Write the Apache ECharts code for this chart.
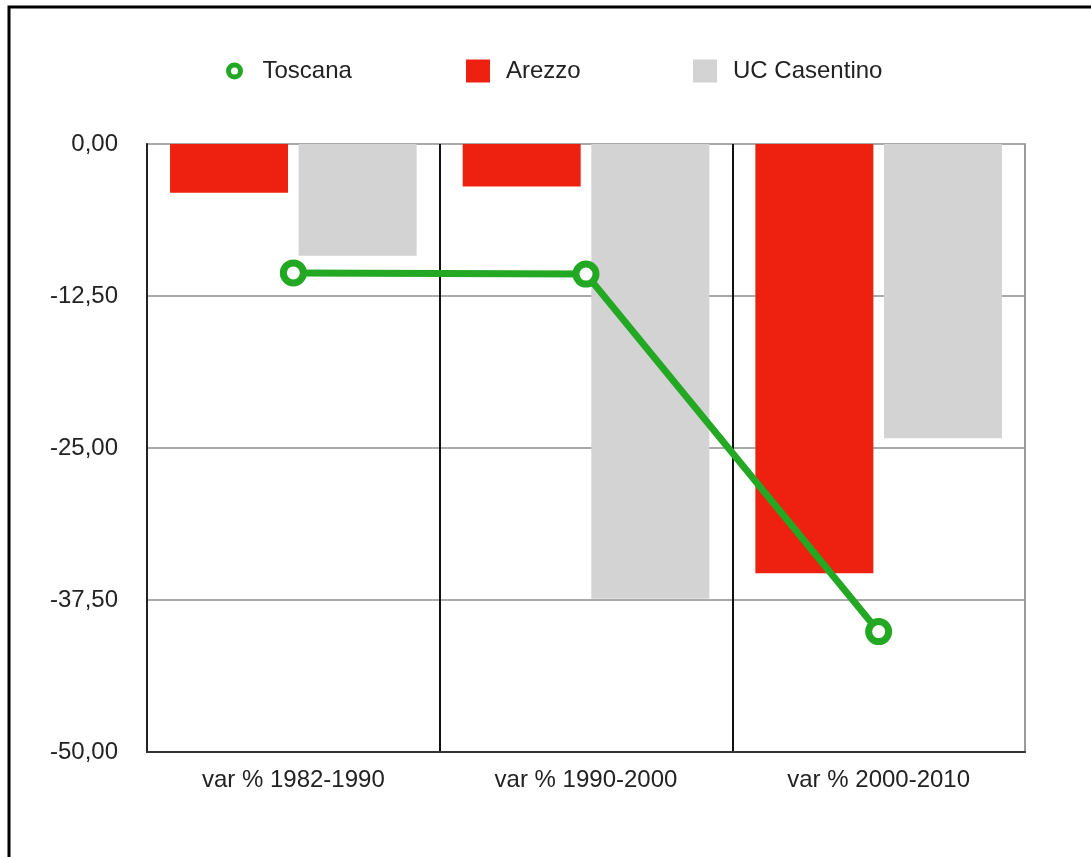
<!DOCTYPE html>
<html>
<head>
<meta charset="utf-8">
<script src="https://cdn.jsdelivr.net/npm/echarts@6/dist/echarts.min.js"></script>
<style>
html,body{margin:0;padding:0;background:#fff;}
#chart{width:1091px;height:857px;}
</style>
</head>
<body>
<div id="chart"></div>
<script>
const categories = ['var % 1982-1990', 'var % 1990-2000', 'var % 2000-2010'];
const toscana = [-10.6, -10.7, -40.1];
const arezzo = [-4.0, -3.5, -35.3];
const casentino = [-9.2, -37.4, -24.2];
const yTicks = { min: -50, max: 0, interval: 12.5 };

const chart = echarts.init(document.getElementById('chart'), null, { renderer: 'canvas' });
const FONT = 'Liberation Sans, Arial, Helvetica, sans-serif';
const GREEN = '#22a822';
const RED = '#ee2010';
const GREY = '#d3d3d3';

const legendText = { fontFamily: FONT, fontSize: 24, color: '#222' };

chart.setOption({
  animation: false,
  backgroundColor: '#fff',
  graphic: [{
    type: 'rect', silent: true, z: 100,
    shape: { x: 9, y: 7, width: 3000, height: 3000 },
    style: { fill: 'none', stroke: '#000', lineWidth: 3 }
  }],
  legend: [
    {
      left: 221, top: 54, itemWidth: 12, itemHeight: 12,
      data: [{ name: 'Toscana', icon: 'circle', itemStyle: { color: '#fff', borderColor: GREEN, borderWidth: 5 } }],
      textStyle: Object.assign({ padding: [0, 0, 0, 17] }, legendText)
    },
    {
      left: 461, top: 54, itemWidth: 24, itemHeight: 23,
      data: [{ name: 'Arezzo', icon: 'rect' }],
      textStyle: Object.assign({ padding: [0, 0, 0, 11] }, legendText)
    },
    {
      left: 688, top: 54, itemWidth: 24, itemHeight: 23,
      data: [{ name: 'UC Casentino', icon: 'rect' }],
      textStyle: Object.assign({ padding: [0, 0, 0, 11] }, legendText)
    }
  ],
  grid: {
    left: 147, right: 66, top: 144, bottom: 105,
    show: true, borderColor: '#aaa', borderWidth: 2, backgroundColor: 'transparent'
  },
  xAxis: {
    type: 'category',
    data: categories,
    boundaryGap: true,
    axisLine: { onZero: false, lineStyle: { color: '#333', width: 2 } },
    axisTick: { show: false },
    axisLabel: { fontFamily: FONT, fontSize: 24, color: '#222', margin: 16 },
    splitLine: { show: true, interval: 0, lineStyle: { color: ['#111', '#111', '#111', '#999'], width: 2 } }
  },
  yAxis: {
    type: 'value',
    min: yTicks.min, max: yTicks.max, interval: yTicks.interval,
    axisLine: { show: true, lineStyle: { color: '#222', width: 2 } },
    axisTick: { show: false },
    axisLabel: {
      fontFamily: FONT, fontSize: 24, color: '#222', margin: 29,
      formatter: v => v.toFixed(2).replace('.', ',')
    },
    splitLine: { show: true, lineStyle: { color: '#aaa', width: 2 } }
  },
  series: [
    {
      name: 'Arezzo', type: 'bar', data: arezzo,
      barWidth: 118, barGap: '9%',
      itemStyle: { color: RED }
    },
    {
      name: 'UC Casentino', type: 'bar', data: casentino,
      barWidth: 118, barGap: '9%',
      itemStyle: { color: GREY }
    },
    {
      name: 'Toscana', type: 'line', data: toscana, z: 5,
      symbol: 'circle', symbolSize: 20,
      lineStyle: { color: GREEN, width: 7 },
      itemStyle: { color: '#fff', borderColor: GREEN, borderWidth: 7 }
    }
  ]
});
</script>
</body>
</html>
